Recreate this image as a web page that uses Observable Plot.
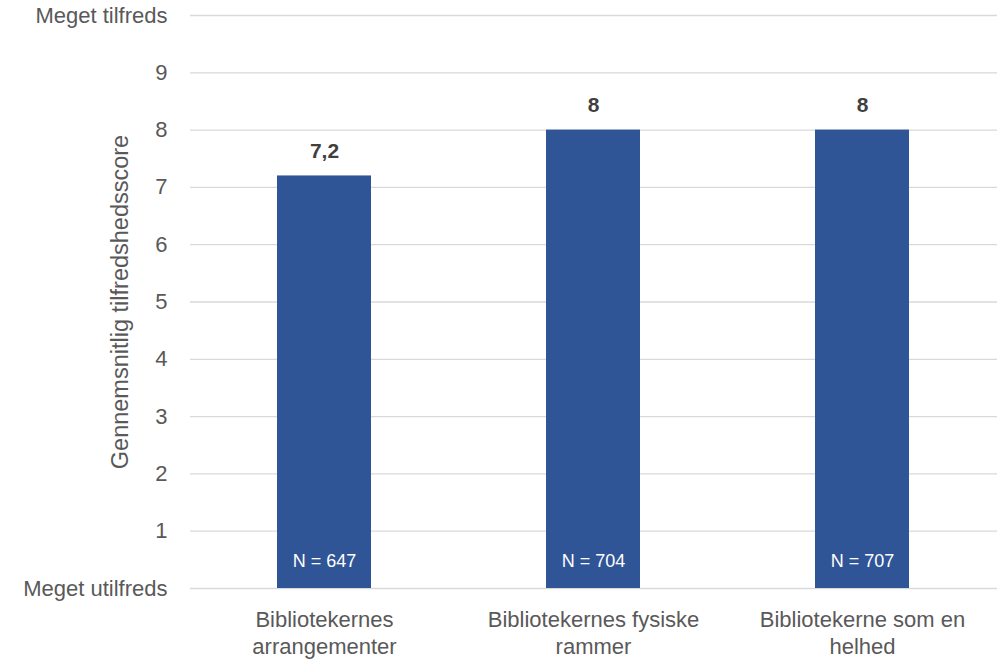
<!DOCTYPE html>
<html><head><meta charset="utf-8">
<script src="https://cdn.jsdelivr.net/npm/d3@7"></script>
<script src="https://cdn.jsdelivr.net/npm/@observablehq/plot@0.6"></script>
<style>body{margin:0;background:#fff}</style>
</head><body><div id="chart"></div>
<script>
const categories = ["Bibliotekernes arrangementer", "Bibliotekernes fysiske rammer", "Bibliotekerne som en helhed"];
const categoryLines = ["Bibliotekernes\narrangementer", "Bibliotekernes fysiske\nrammer", "Bibliotekerne som en\nhelhed"];
const scores = [7.2, 8, 8];
const scoreLabels = ["7,2", "8", "8"];
const respondents = [647, 704, 707];
const yTicks = [0, 1, 2, 3, 4, 5, 6, 7, 8, 9, 10];
const yTickLabels = ["Meget utilfreds", "1", "2", "3", "4", "5", "6", "7", "8", "9", "Meget tilfreds"];
const yTitle = "Gennemsnitlig tilfredshedsscore";

const data = categories.map((c, i) => ({cat: c, score: scores[i], label: scoreLabels[i], n: respondents[i]}));
const font = "Liberation Sans, Arial, sans-serif";
const grey = "#595959";

const chart = Plot.plot({
  width: 997,
  height: 660,
  marginLeft: 190,
  marginRight: 0,
  marginTop: 15,
  marginBottom: 72,
  style: {fontFamily: font, background: "#fff", overflow: "visible"},
  x: {type: "band", domain: categories, paddingInner: 0.65, paddingOuter: 0.325},
  y: {domain: [0, 10]},
  marks: [
    Plot.ruleY(yTicks, {stroke: "#d9d9d9", strokeWidth: 1.3}),
    Plot.barY(data, {x: "cat", y: "score", fill: "#2F5597"}),
    Plot.text(data, {x: "cat", y: "score", text: "label", dy: -25, fontSize: 21, fontWeight: "bold", fill: "#404040"}),
    Plot.text(data, {x: "cat", y: () => 0, text: d => `N = ${d.n}`, dy: -27, fontSize: 18, fill: "#ffffff"}),
    Plot.axisY({ticks: yTicks, tickFormat: d => yTickLabels[yTicks.indexOf(d)], tickSize: 0, tickPadding: 23, fontSize: 22, color: grey, label: null}),
    Plot.axisX({tickSize: 0, tickPadding: 20, tickFormat: d => categoryLines[categories.indexOf(d)], fontSize: 22, lineHeight: 1.2, color: grey, label: null}),
    Plot.text([yTitle], {frameAnchor: "left", dx: -70, rotate: -90, textAnchor: "middle", fontSize: 23.5, fill: grey})
  ]
});
document.getElementById("chart").appendChild(chart);
</script>
</body></html>
